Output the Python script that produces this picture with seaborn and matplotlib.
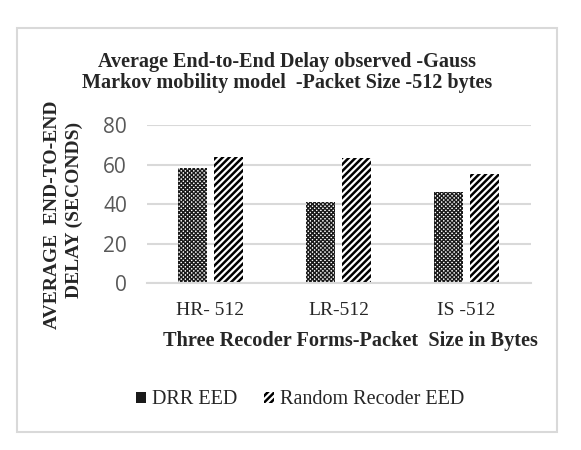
import matplotlib
matplotlib.use("Agg")
import matplotlib.pyplot as plt
import seaborn as sns
import pandas as pd
from matplotlib.patches import Rectangle, Patch

categories = ["HR- 512", "LR-512", "IS -512"]
series_names = ["DRR EED", "Random Recoder EED"]
drr_eed = [58, 41, 46]
random_eed = [64, 63.5, 55]
y_ticks = [0, 20, 40, 60, 80]

df = pd.DataFrame({
    "cat": categories * 2,
    "val": drr_eed + random_eed,
    "series": [series_names[0]] * 3 + [series_names[1]] * 3,
})

sns.set_style("white")
plt.rcParams["hatch.linewidth"] = 1.8
serif = ["Liberation Serif", "DejaVu Serif"]
sans = ["Open Sans", "DejaVu Sans"]

fig = plt.figure(figsize=(5.81, 4.5), dpi=100)
ax = fig.add_axes([146.5 / 581, 1 - 283 / 450, 384 / 581, 158 / 450])

sns.barplot(data=df, x="cat", y="val", hue="series", ax=ax,
            palette=["white", "white"], width=0.5625, gap=0.19,
            edgecolor="black", linewidth=0, legend=False)

hatches = ["xxxxxxxx", "/////"]
colors = ["#1a1a1a", "black"]
for cont, h, c in zip(ax.containers, hatches, colors):
    for bar in cont:
        bar.set_hatch(h)
        bar.set_edgecolor(c)
        if h != "/////":
            try:
                bar.set_hatch_linewidth(1.0)
            except Exception:
                pass

ax.set_ylim(0, 80)
ax.set_yticks(y_ticks)
ax.set_xlim(-0.5, 2.5)
ax.yaxis.grid(True, color="#d9d9d9", linewidth=1.5)
ax.set_axisbelow(True)
for s in ["top", "right", "left"]:
    ax.spines[s].set_visible(False)
ax.spines["bottom"].set_color("#d9d9d9")
ax.spines["bottom"].set_linewidth(1.5)
ax.tick_params(axis="y", length=0, pad=14, labelsize=15, labelcolor="#595959")
ax.tick_params(axis="x", length=0, pad=14, labelsize=14)
for t in ax.get_yticklabels():
    t.set_fontfamily(sans)
for t in ax.get_xticklabels():
    t.set_fontfamily(serif)
ax.set_xlabel("")
ax.set_ylabel("")

fig.text(350 / 581, 1 - 341 / 450, "Three Recoder Forms-Packet  Size in Bytes",
         ha="center", va="center", fontsize=14.6, fontweight="bold", family=serif)
fig.text(53 / 581, 1 - 215 / 450, "AVERAGE  END-TO-END", rotation=90,
         ha="center", va="center", fontsize=14, fontweight="bold", family=serif)
fig.text(74 / 581, 1 - 210 / 450, "DELAY (SECONDS)", rotation=90,
         ha="center", va="center", fontsize=14, fontweight="bold", family=serif)
fig.text(287 / 581, 1 - 72.5 / 450,
         "Average End-to-End Delay observed -Gauss\nMarkov mobility model  -Packet Size -512 bytes",
         ha="center", va="center", fontsize=14.5, fontweight="bold", family=serif,
         linespacing=1.12)

handles = [Patch(facecolor="white", edgecolor=colors[0], hatch="xxxxxxxx", linewidth=0),
           Patch(facecolor="white", edgecolor=colors[1], hatch="/////", linewidth=0)]
fig.legend(handles, series_names, loc="center", bbox_to_anchor=(300 / 581, 1 - 400 / 450),
           ncol=2, frameon=False, prop={"family": serif, "size": 14.5},
           handlelength=0.5, handleheight=0.5, handletextpad=0.3, columnspacing=1.3)

fig.patches.append(Rectangle((17 / 581, 1 - 432 / 450), 540 / 581, 404 / 450,
                             transform=fig.transFigure, fill=False,
                             edgecolor="#d9d9d9", linewidth=1.5))

fig.savefig("out.png", dpi=100)
